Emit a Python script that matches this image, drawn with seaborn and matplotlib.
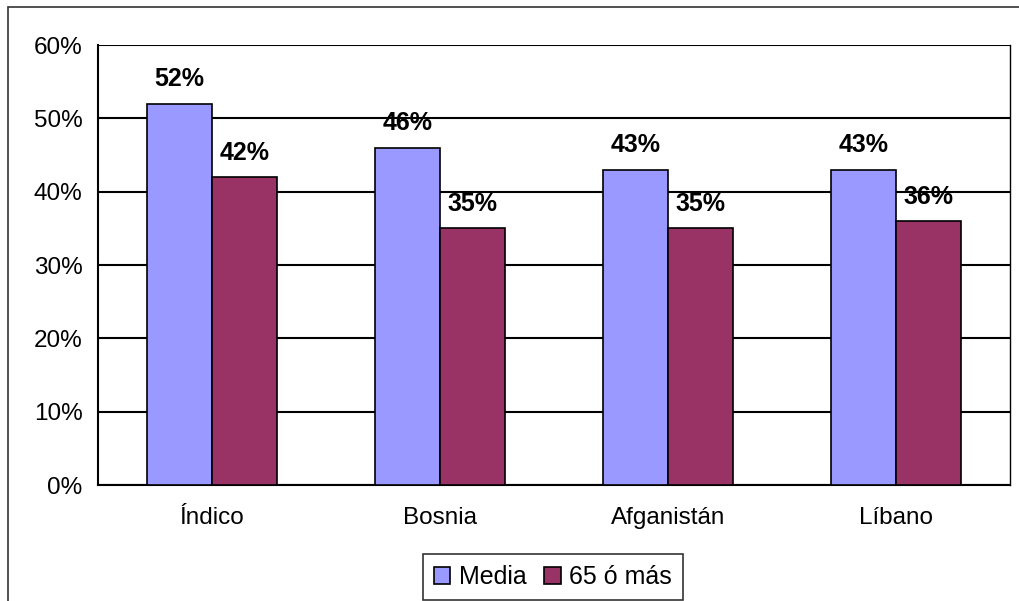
import pandas as pd
import seaborn as sns
import matplotlib.pyplot as plt
from matplotlib.patches import Rectangle
from matplotlib.ticker import FixedLocator

# datos
regiones = ["Índico", "Bosnia", "Afganistán", "Líbano"]
media = [52, 46, 43, 43]
mayores = [42, 35, 35, 36]
series = ["Media", "65 ó más"]
colores = ["#9999FF", "#993366"]

df = pd.DataFrame({
    "region": regiones * 2,
    "valor": media + mayores,
    "serie": [series[0]] * 4 + [series[1]] * 4,
})

sns.set_style("white")
plt.rcParams["font.family"] = ["Liberation Sans", "DejaVu Sans"]
plt.rcParams["text.color"] = "black"
plt.rcParams["xtick.color"] = "black"
plt.rcParams["ytick.color"] = "black"

fig = plt.figure(figsize=(10.19, 6.01), dpi=100)
ax = fig.add_axes([98 / 1019, 1 - 485 / 601, 912 / 1019, 440 / 601])

sns.barplot(data=df, x="region", y="valor", hue="serie", palette=colores,
            width=0.57, edgecolor="black", linewidth=1.2, saturation=1,
            ax=ax, zorder=3)

# etiquetas encima de las barras
for cont in ax.containers:
    for bar in cont:
        h = bar.get_height()
        ax.annotate("%d%%" % h, (bar.get_x() + bar.get_width() / 2, h),
                    xytext=(0, 9), textcoords="offset points",
                    ha="center", va="bottom", fontsize=18, fontweight="bold",
                    color="black", zorder=5)

ax.set_ylim(0, 60)
ax.set_xlim(-0.5, 3.5)
ax.set_yticks(range(0, 61, 10))
ax.set_yticklabels(["%d%%" % v for v in range(0, 61, 10)], fontsize=17.5)
ax.yaxis.grid(True, color="black", linewidth=1.5, zorder=0)
ax.set_axisbelow(True)

# ticks del eje x entre grupos
ax.xaxis.set_major_locator(FixedLocator([-0.5, 0.5, 1.5, 2.5, 3.5]))
ax.xaxis.set_minor_locator(FixedLocator([0, 1, 2, 3]))
ax.set_xticklabels([""] * 5)
ax.set_xticklabels(regiones, minor=True, fontsize=17.5)
ax.tick_params(axis="x", which="major", direction="out", length=7,
               width=1.5)
ax.tick_params(axis="x", which="minor", length=0, pad=16)
ax.tick_params(axis="y", direction="out", length=7, width=1.5, pad=4)
ax.set_xlabel("")
ax.set_ylabel("")

for side in ["left", "bottom"]:
    ax.spines[side].set_color("black")
    ax.spines[side].set_linewidth(1.5)
ax.spines["top"].set_visible(False)
ax.spines["right"].set_color("black")
ax.spines["right"].set_linewidth(1.0)

leg = ax.legend(loc="center", bbox_to_anchor=(553 / 1019, 1 - 577 / 601),
                bbox_transform=fig.transFigure, ncol=2, fontsize=18,
                frameon=True, fancybox=False, edgecolor="black",
                handlelength=0.65, handleheight=0.65, handletextpad=0.35,
                columnspacing=0.7, borderpad=0.45, borderaxespad=0)
leg.get_frame().set_linewidth(1.2)
for h in leg.legend_handles:
    h.set_edgecolor("black")

# marco exterior del grafico
fig.patches.append(Rectangle((8 / 1019, -0.1), 1.2, 1.1 - 7 / 601,
                             transform=fig.transFigure, fill=False,
                             edgecolor="#333333", linewidth=1.2))

fig.savefig("out.png", dpi=100)
